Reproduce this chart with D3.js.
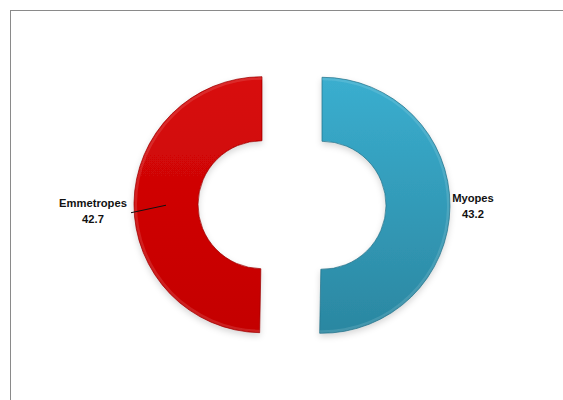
<!DOCTYPE html>
<html>
<head>
<meta charset="utf-8">
<script src="https://cdn.jsdelivr.net/npm/d3@7"></script>
<style>
  body { margin: 0; background: #fff; }
  svg { display: block; }
</style>
</head>
<body>
<div id="vis"></div>
<script>
const categories = ["Myopes", "Emmetropes"];
const values = [43.2, 42.7];
const labels = ["43.2", "42.7"];

const width = 563;
const height = 400;
const cx = 292, cy = 205;
const outerR = 128, innerR = 64;
const explode = 30;

const svg = d3.select("#vis")
  .append("svg")
  .attr("width", width)
  .attr("height", height);

// chart frame
svg.append("rect")
  .attr("x", 10.5).attr("y", 10.5)
  .attr("width", 600).attr("height", 450)
  .attr("fill", "#fff")
  .attr("stroke", "#8a8a8a");

const defs = svg.append("defs");
const grads = [
  { id: "gBlue", top: "#3aaecf", bottom: "#2b87a1" },
  { id: "gRed", top: "#d80a0a", bottom: "#c40000" }
];
grads.forEach(g => {
  const lg = defs.append("linearGradient").attr("id", g.id)
    .attr("x1", 0).attr("y1", 0).attr("x2", 0).attr("y2", 1);
  lg.append("stop").attr("offset", "0%").attr("stop-color", g.top);
  lg.append("stop").attr("offset", "100%").attr("stop-color", g.bottom);
});
const shadow = defs.append("filter").attr("id", "shadow")
  .attr("x", "-20%").attr("y", "-20%").attr("width", "140%").attr("height", "140%");
shadow.append("feDropShadow").attr("dx", 0).attr("dy", 3).attr("stdDeviation", 3)
  .attr("flood-color", "#000").attr("flood-opacity", 0.16);

const pie = d3.pie().sort(null).value(d => d)(values);
const arc = d3.arc().innerRadius(innerR).outerRadius(outerR);
const edge = ["#226f85", "#9a0000"];
const fills = ["url(#gBlue)", "url(#gRed)"];

function offset(d, r) {
  const a = (d.startAngle + d.endAngle) / 2;
  return [Math.sin(a) * r, -Math.cos(a) * r];
}

const slices = svg.selectAll("g.slice")
  .data(pie)
  .enter()
  .append("g")
  .attr("class", "slice")
  .attr("transform", d => {
    const [ox, oy] = offset(d, explode);
    return `translate(${cx + ox},${cy + oy})`;
  });

slices.append("path")
  .attr("d", arc)
  .attr("fill", (d, i) => fills[i])
  .attr("stroke", (d, i) => edge[i])
  .attr("stroke-width", 0.7)
  .attr("filter", "url(#shadow)");

// bevel highlight on outer edge
slices.append("path")
  .attr("d", d3.arc().innerRadius(outerR - 3).outerRadius(outerR - 0.5))
  .attr("fill", "#fff")
  .attr("opacity", 0.12);

// labels
const labelR = [151, 169];
const labelDy = [-5, 4];
svg.selectAll("text.cat")
  .data(pie)
  .enter()
  .append("text")
  .attr("class", "cat")
  .attr("text-anchor", "middle")
  .attr("font-family", "Liberation Sans, Arial, sans-serif")
  .attr("font-weight", "bold")
  .attr("font-size", 11.2)
  .attr("fill", "#111")
  .each(function (d, i) {
    const [ox, oy] = offset(d, explode + labelR[i]);
    const t = d3.select(this)
      .attr("x", cx + ox)
      .attr("y", cy + oy + labelDy[i]);
    t.append("tspan").attr("x", cx + ox).text(categories[i]);
    t.append("tspan").attr("x", cx + ox).attr("dy", 16).text(labels[i]);
  });

// leader line for Emmetropes
const red = pie[1];
const [rx, ry] = offset(red, explode);
svg.append("line")
  .attr("x1", cx + rx - 131).attr("y1", cy + ry + 8)
  .attr("x2", cx + rx - 96).attr("y2", cy + ry + 0.5)
  .attr("stroke", "#111")
  .attr("stroke-width", 1);
</script>
</body>
</html>
